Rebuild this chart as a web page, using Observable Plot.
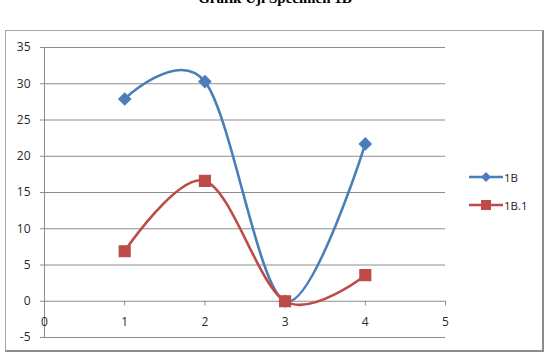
<!DOCTYPE html>
<html>
<head>
<meta charset="utf-8">
<script src="https://cdn.jsdelivr.net/npm/d3@7"></script>
<script src="https://cdn.jsdelivr.net/npm/@observablehq/plot@0.6"></script>
<style>
  html, body { margin: 0; padding: 0; background: #fff; }
  #wrap { position: relative; width: 550px; height: 363px; overflow: hidden; font-family: "Open Sans", Lato, sans-serif; }
  #title { position: absolute; left: 0; width: 550px; top: -10px; text-align: center; font: bold 15px "Liberation Serif", "DejaVu Serif", serif; color: #000; }
  #frame { position: absolute; left: 5px; top: 30px; width: 539px; height: 322px; border: 1px solid #a6a6a6; box-sizing: border-box; border-right: 2px solid #8c8c8c; border-bottom: 2px solid #8c8c8c; }
  #chart { position: absolute; left: 0; top: 0; }
  #legend { position: absolute; left: 469px; top: 170px; font: 11.5px "Open Sans", sans-serif; color: #222; }
  .li { display: flex; align-items: center; height: 14px; margin-bottom: 14px; }
  .li svg { margin-right: 1px; }
</style>
</head>
<body>
<div id="wrap">
  <div id="title">Grafik Uji Specimen 1B</div>
  <div id="frame"></div>
  <div id="chart"></div>
  <div id="legend"></div>
</div>
<script>
const xs = [1, 2, 3, 4];
const series1B = [27.9, 30.3, 0, 21.7];
const series1B1 = [6.9, 16.6, 0, 3.6];
const seriesNames = ["1B", "1B.1"];
const colors = ["#4A7EBB", "#BE4B48"];
const yTicks = [-5, 0, 5, 10, 15, 20, 25, 30, 35];
const xTicks = [0, 1, 2, 3, 4, 5];

const d1 = xs.map((x, i) => ({x, y: series1B[i]}));
const d2 = xs.map((x, i) => ({x, y: series1B1[i]}));

const plot = Plot.plot({
  width: 550,
  height: 363,
  marginLeft: 44,
  marginRight: 105,
  marginTop: 47,
  marginBottom: 26,
  x: {domain: [0, 5], axis: null},
  y: {domain: [-5, 35], axis: null},
  style: {fontFamily: "'Open Sans', sans-serif", fontSize: "12px", background: "transparent"},
  marks: [
    Plot.ruleY(yTicks, {stroke: "#8c8c8c", strokeWidth: 1, x1: -0.05, x2: 5}),
    Plot.ruleX([0], {y1: -5, y2: 35, stroke: "#8c8c8c"}),
    Plot.ruleX(xTicks, {y1: 0, y2: -0.65, stroke: "#8c8c8c"}),
    Plot.text(yTicks, {x: 0, y: d => d, dx: -14, textAnchor: "end", fill: "#2a2a2a", text: d => String(d)}),
    Plot.text(xTicks, {x: d => d, y: 0, dy: 21, fill: "#2a2a2a", text: d => String(d)}),
    Plot.line(d1, {x: "x", y: "y", stroke: colors[0], strokeWidth: 2.6, curve: "cardinal"}),
    Plot.line(d2, {x: "x", y: "y", stroke: colors[1], strokeWidth: 2.6, curve: "cardinal"}),
    Plot.dot(d1, {x: "x", y: "y", symbol: "diamond2", r: 5.2, fill: colors[0], stroke: colors[0]}),
    Plot.dot(d2, {x: "x", y: "y", symbol: "square", r: 6, fill: colors[1], stroke: colors[1]})
  ]
});
document.getElementById("chart").appendChild(plot);

const legend = document.getElementById("legend");
seriesNames.forEach((name, i) => {
  const row = document.createElement("div");
  row.className = "li";
  const marker = i === 0
    ? `<polygon points="17,2 22,7 17,12 12,7" fill="${colors[i]}"/>`
    : `<rect x="12" y="2" width="10" height="10" fill="${colors[i]}"/>`;
  row.innerHTML = `<svg width="34" height="14"><line x1="0" y1="7" x2="34" y2="7" stroke="${colors[i]}" stroke-width="2.6"/>${marker}</svg><span>${name}</span>`;
  legend.appendChild(row);
});
</script>
</body>
</html>
